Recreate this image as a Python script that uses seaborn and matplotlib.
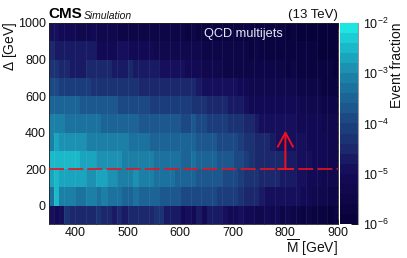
import numpy as np
import matplotlib
matplotlib.use('Agg')
import matplotlib.pyplot as plt
import seaborn as sns
from matplotlib.colors import LinearSegmentedColormap, ListedColormap, LogNorm
from matplotlib.ticker import LogLocator, NullFormatter, FixedLocator

sns.set_style('white')
plt.rcParams['font.family'] = ['Liberation Sans', 'DejaVu Sans']
plt.rcParams['mathtext.fontset'] = 'custom'
plt.rcParams['mathtext.rm'] = 'Liberation Sans'
plt.rcParams['mathtext.default'] = 'regular'

# log10(event fraction), 10 GeV columns from 350 to 900, top row is 900-1000
r900 = [-4.9,-4.9,-5.1,-5.1,-5.1,-5.3,-5.3,-5.3,-5.1,-5.3,-5.3,-5.3,-5.3,-5.5,-5.5,-5.5,-5.5,-5.5,-5.5,-5.5,-5.5,-5.5,-5.5,-5.5,-5.5,-5.5,-5.7,-5.5,-5.7,-5.7,-5.7,-5.7,-5.7,-5.7,-5.7,-5.7,-5.7,-5.7,-5.7,-5.7,-5.7,-5.7,-5.7,-5.7,-5.7,-5.9,-5.7,-5.9,-5.9,-5.9,-5.9,-5.9,-5.9,-5.9,-5.9]
r800 = [-4.5,-4.7,-4.7,-4.7,-4.7,-4.7,-4.7,-4.7,-4.7,-5.1,-5.1,-5.1,-5.1,-4.9,-4.9,-5.1,-5.1,-5.1,-5.1,-5.1,-5.3,-5.3,-5.3,-5.3,-5.3,-5.3,-5.3,-5.3,-5.3,-5.5,-5.5,-5.5,-5.5,-5.5,-5.5,-5.5,-5.5,-5.5,-5.7,-5.5,-5.7,-5.7,-5.7,-5.7,-5.7,-5.7,-5.7,-5.7,-5.7,-5.7,-5.7,-5.9,-5.9,-5.9,-5.9]
r700 = [-4.3,-4.3,-4.5,-4.5,-4.7,-4.7,-4.7,-4.5,-4.5,-4.5,-4.5,-4.5,-4.7,-4.7,-4.7,-4.5,-4.7,-4.7,-4.7,-4.7,-4.7,-4.9,-4.9,-4.9,-4.9,-4.9,-5.1,-5.1,-5.1,-5.3,-5.3,-5.3,-5.3,-5.5,-5.5,-5.5,-5.5,-5.5,-5.5,-5.5,-5.5,-5.5,-5.5,-5.5,-5.5,-5.7,-5.5,-5.7,-5.7,-5.7,-5.7,-5.7,-5.7,-5.7,-5.9]
r600 = [-3.9,-3.9,-4.1,-4.1,-4.1,-4.1,-4.1,-4.1,-4.3,-4.3,-4.3,-4.3,-4.3,-4.3,-4.3,-4.3,-4.3,-4.5,-4.5,-4.5,-4.5,-4.5,-4.5,-4.5,-4.5,-4.5,-4.5,-4.5,-4.7,-4.9,-4.9,-4.9,-4.9,-4.9,-4.9,-4.9,-5.1,-5.1,-5.3,-5.3,-5.3,-5.3,-5.3,-5.3,-5.3,-5.3,-5.3,-5.5,-5.5,-5.5,-5.5,-5.5,-5.7,-5.7,-5.7]
r500 = [-3.5,-3.5,-3.5,-3.5,-3.5,-3.5,-3.7,-3.7,-3.7,-3.7,-3.7,-3.7,-3.7,-3.9,-3.9,-3.9,-3.9,-3.9,-3.9,-4.1,-4.1,-4.1,-4.1,-4.1,-4.1,-4.1,-4.1,-4.3,-4.3,-4.3,-4.5,-4.5,-4.5,-4.5,-4.7,-4.7,-4.7,-4.9,-5.1,-5.1,-5.1,-5.1,-5.1,-5.1,-5.1,-5.1,-5.1,-5.1,-5.3,-5.3,-5.3,-5.3,-5.5,-5.5,-5.5]
r400 = [-3.1,-3.1,-3.1,-3.3,-3.3,-3.3,-3.3,-3.3,-3.3,-3.3,-3.5,-3.5,-3.5,-3.5,-3.5,-3.5,-3.5,-3.7,-3.7,-3.7,-3.7,-3.7,-3.7,-3.7,-3.7,-3.9,-3.9,-3.7,-3.9,-3.9,-4.1,-4.1,-4.1,-4.1,-4.3,-4.3,-4.3,-4.5,-4.5,-4.7,-4.9,-4.9,-4.9,-4.9,-4.9,-4.9,-4.9,-5.1,-5.1,-5.1,-5.1,-5.1,-5.3,-5.3,-5.3]
r300 = [-3.1,-2.7,-2.9,-2.9,-2.9,-2.9,-2.9,-3.1,-3.1,-3.1,-3.1,-3.1,-3.1,-3.1,-3.1,-3.3,-3.3,-3.3,-3.3,-3.5,-3.5,-3.5,-3.5,-3.5,-3.5,-3.5,-3.5,-3.5,-3.7,-3.7,-3.7,-3.7,-3.9,-3.9,-3.9,-3.9,-4.1,-4.3,-4.3,-4.5,-4.5,-4.5,-4.7,-4.9,-4.9,-4.9,-4.9,-4.9,-4.9,-5.1,-5.1,-5.1,-5.1,-5.3,-5.3]
r200 = [-2.5,-2.5,-2.5,-2.5,-2.5,-2.5,-2.7,-2.7,-2.7,-2.9,-2.9,-2.9,-2.9,-2.9,-3.1,-3.1,-3.1,-3.1,-3.1,-3.1,-3.3,-3.3,-3.3,-3.3,-3.3,-3.5,-3.5,-3.3,-3.5,-3.5,-3.5,-3.5,-3.7,-3.7,-3.7,-3.9,-3.9,-4.1,-4.3,-4.5,-4.5,-4.5,-4.5,-4.5,-4.5,-4.7,-4.7,-4.9,-4.9,-4.9,-5.1,-5.1,-5.1,-5.3,-5.3]
r100 = [-2.7,-2.5,-2.7,-2.7,-2.7,-2.7,-2.7,-2.9,-2.9,-2.7,-2.7,-2.9,-2.9,-3.1,-3.1,-3.1,-2.9,-3.1,-3.1,-3.1,-3.3,-3.3,-3.3,-3.3,-3.5,-3.5,-3.5,-3.5,-3.7,-3.7,-3.7,-3.7,-3.7,-3.9,-3.9,-3.9,-4.1,-4.3,-4.3,-4.3,-4.5,-4.5,-4.5,-4.5,-4.7,-4.7,-4.7,-4.9,-4.9,-5.1,-5.1,-5.1,-5.3,-5.3,-5.3]
r0 = [-3.3,-2.5,-3.1,-3.1,-3.1,-3.3,-3.3,-3.1,-3.1,-3.3,-3.1,-3.3,-3.3,-3.3,-3.5,-3.5,-3.3,-3.5,-3.5,-3.5,-3.5,-3.7,-3.7,-3.7,-3.7,-3.9,-3.9,-3.9,-3.9,-3.9,-3.9,-3.9,-4.1,-4.1,-4.1,-4.1,-4.3,-4.5,-4.5,-4.5,-4.7,-4.9,-4.9,-4.9,-4.9,-4.9,-4.9,-4.9,-5.1,-5.1,-5.3,-5.3,-5.3,-5.5,-5.5]
rm100 = [-4.9,-5.1,-4.9,-4.3,-4.5,-4.5,-4.5,-4.5,-4.5,-4.3,-4.5,-4.5,-4.7,-4.5,-4.7,-4.5,-4.5,-4.5,-4.5,-4.5,-4.3,-4.3,-4.7,-4.7,-4.7,-5.1,-4.9,-5.1,-4.7,-5.1,-4.7,-4.7,-4.7,-4.9,-5.1,-5.1,-4.9,-5.1,-5.1,-5.3,-5.3,-5.1,-5.3,-5.1,-5.5,-5.3,-5.5,-5.5,-5.7,-5.5,-5.7,-5.7,-5.7,-5.9,-5.7]
rows = [r900, r800, r700, r600, r500, r400, r300, r200, r100, r0, rm100]

x_ticks = [400, 500, 600, 700, 800, 900]
y_ticks = [0, 200, 400, 600, 800, 1000]

grad = LinearSegmentedColormap.from_list('qcd', [
    (0.0, '#07033a'), (0.25, '#150c5a'), (0.375, '#1b2a6c'), (0.5, '#1c4280'),
    (0.75, '#1c82a8'), (0.92, '#1bc0ce'), (1.0, '#1ee4e2')])
cmap = ListedColormap(grad(np.linspace(0, 1, 20)))

W, H = 407, 258
fig = plt.figure(figsize=(W / 100, H / 100), dpi=100)
ax = fig.add_axes([48.7 / W, 1 - 224 / H, 289.3 / W, 201 / H])
cax = fig.add_axes([339.8 / W, 1 - 224 / H, 18.4 / W, 201 / H])

sns.heatmap(10.0 ** np.array(rows), ax=ax, cbar_ax=cax, cmap=cmap,
            norm=LogNorm(vmin=1e-6, vmax=1e-2), xticklabels=False, yticklabels=False)


# heatmap works in cell index, so go from GeV to index
def xi(v):
    return (np.asarray(v) - 350) / 10


def yi(v):
    return (1000 - np.asarray(v)) / 100


# seams between pads in the original
ax.vlines(xi(np.arange(360, 900, 20)), 0, 11, color='white', alpha=0.06, lw=0.7)

ax.xaxis.set_major_locator(FixedLocator(xi(x_ticks)))
ax.set_xticklabels([str(v) for v in x_ticks], fontsize=9)
ax.yaxis.set_major_locator(FixedLocator(yi(y_ticks)))
ax.set_yticklabels([str(v) for v in y_ticks], fontsize=9)
ax.xaxis.set_minor_locator(FixedLocator(xi(np.arange(360, 900, 20))))
ax.yaxis.set_minor_locator(FixedLocator(yi(np.arange(-50, 1000, 50))))
ax.tick_params(which='major', direction='in', length=5.5 * 0.72, width=0.7, color='#111111',
               top=True, right=True, bottom=True, left=True, labelsize=9, pad=2, labelcolor='#111111')
ax.tick_params(which='minor', direction='in', length=3 * 0.72, width=0.7, color='#111111',
               top=True, right=True, bottom=True, left=True)
for s in ax.spines.values():
    s.set_visible(True)
    s.set_color('#222222')
    s.set_linewidth(0.6)

ax.plot(xi([350, 900]), yi([200, 200]), color='#e8141e', lw=1.2, dashes=(9, 2.5), zorder=5)
ax.plot(xi([785, 815]), yi([200, 200]), color='#e8141e', lw=1.4, zorder=5)
ax.annotate('', xy=(xi(800), yi(410)), xytext=(xi(800), yi(200)), zorder=6,
            arrowprops=dict(arrowstyle='->,head_length=1.0,head_width=0.55', color='#f01020',
                            lw=1.4, shrinkA=0, shrinkB=0))
ax.text(xi(645), yi(938), 'QCD multijets', color='#e6e6f0', fontsize=9.2, ha='left', va='center')

ax.text(0, 1.012, 'CMS', transform=ax.transAxes, fontsize=11, fontweight='bold', color='black',
        ha='left', va='bottom')
ax.text(35.5 / 289.3, 1.012, 'Simulation', transform=ax.transAxes, fontsize=7.5, style='italic',
        color='#111111', ha='left', va='bottom')
ax.text(1, 1.012, '(13 TeV)', transform=ax.transAxes, fontsize=9.5, color='#111111', ha='right', va='bottom')

fig.text(338 / W, 1 - 253 / H, r'$\overline{\mathrm{M}}$ [GeV]', fontsize=10, color='#111111',
         ha='right', va='baseline')
fig.text(19 / W, 1 - 22 / H, r'$\Delta$ [GeV]', fontsize=10, color='#111111', rotation=90,
         ha='right', va='top')
fig.text(404 / W, 1 - 23 / H, 'Event fraction', fontsize=10, color='#111111', rotation=90,
         ha='right', va='top')

cbar = ax.collections[0].colorbar
cbar.set_ticks([1e-6, 1e-5, 1e-4, 1e-3, 1e-2])
cax.yaxis.set_minor_locator(LogLocator(base=10, subs=np.arange(2, 10), numticks=12))
cax.yaxis.set_minor_formatter(NullFormatter())
cax.tick_params(which='major', direction='in', length=7 * 0.72, width=0.7, color='#111111',
                right=True, labelsize=9, pad=3.5, labelcolor='#111111')
cax.tick_params(which='minor', direction='in', length=3.5 * 0.72, width=0.6, color='#111111', right=True)
cbar.outline.set_visible(False)
cax.spines['right'].set_visible(True)
cax.spines['right'].set_color('#999999')
cax.spines['right'].set_linewidth(0.8)

fig.savefig('out.png', dpi=100)
